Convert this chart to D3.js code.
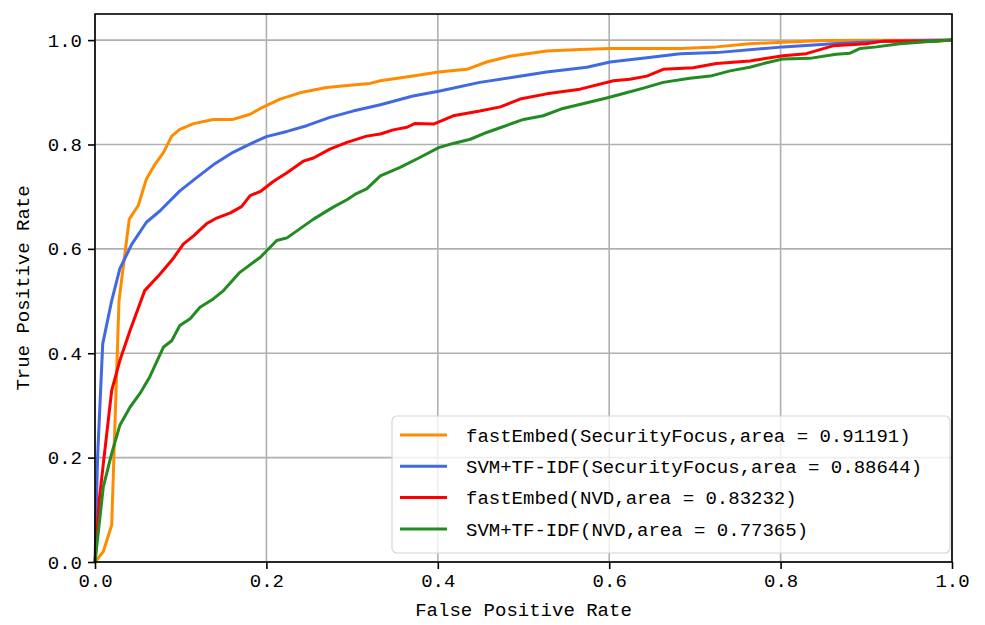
<!DOCTYPE html>
<html lang="en">
<head>
  <meta charset="UTF-8">
  <title>ROC curves</title>
  <script src="https://d3js.org/d3.v7.min.js"></script>
  <style>
    body { margin: 0; background: #fff; }
    text { font-family: "Liberation Mono", "DejaVu Sans Mono", monospace; fill: #000; }
  </style>
</head>
<body>
<script>
// ROC points: [false positive rate, true positive rate]
const rocFastEmbedSF = [
  [0, 0], [0.0097, 0.02], [0.0195, 0.071], [0.024, 0.3], [0.028, 0.5], [0.031, 0.54], [0.040, 0.657],
  [0.0505, 0.683], [0.060, 0.734], [0.070, 0.762], [0.080, 0.785], [0.0895, 0.816], [0.099, 0.829],
  [0.115, 0.840], [0.138, 0.848], [0.161, 0.848], [0.181, 0.858], [0.193, 0.869], [0.216, 0.887],
  [0.239, 0.899], [0.270, 0.909], [0.301, 0.914], [0.321, 0.917], [0.333, 0.922], [0.371, 0.931],
  [0.401, 0.939], [0.434, 0.944], [0.457, 0.958], [0.484, 0.969], [0.527, 0.979], [0.566, 0.982],
  [0.601, 0.984], [0.683, 0.984], [0.725, 0.987], [0.764, 0.993], [0.803, 0.996], [0.85, 0.999], [1, 1]
];
const rocSvmSF = [
  [0, 0], [0.003, 0.2], [0.009, 0.418], [0.0195, 0.501], [0.029, 0.562], [0.043, 0.609], [0.060, 0.651],
  [0.076, 0.673], [0.099, 0.711], [0.119, 0.737], [0.138, 0.761], [0.161, 0.785], [0.185, 0.804],
  [0.200, 0.815], [0.224, 0.825], [0.247, 0.836], [0.274, 0.852], [0.301, 0.864], [0.333, 0.876],
  [0.371, 0.893], [0.401, 0.902], [0.449, 0.919], [0.488, 0.929], [0.527, 0.939], [0.574, 0.948],
  [0.601, 0.958], [0.644, 0.966], [0.683, 0.974], [0.725, 0.976], [0.803, 0.987], [0.861, 0.993],
  [0.920, 0.998], [1, 1]
];
const rocFastEmbedNVD = [
  [0, 0], [0.005, 0.12], [0.0195, 0.329], [0.029, 0.386], [0.041, 0.444], [0.058, 0.520], [0.076, 0.552],
  [0.091, 0.581], [0.103, 0.609], [0.115, 0.625], [0.130, 0.648], [0.142, 0.659], [0.158, 0.669],
  [0.171, 0.681], [0.181, 0.702], [0.193, 0.710], [0.208, 0.729], [0.224, 0.746], [0.243, 0.768],
  [0.255, 0.774], [0.274, 0.791], [0.294, 0.804], [0.317, 0.816], [0.333, 0.820], [0.348, 0.828],
  [0.364, 0.833], [0.373, 0.840], [0.395, 0.839], [0.418, 0.855], [0.449, 0.864], [0.473, 0.872],
  [0.496, 0.887], [0.527, 0.897], [0.566, 0.906], [0.605, 0.922], [0.624, 0.925], [0.644, 0.931],
  [0.663, 0.944], [0.698, 0.947], [0.725, 0.955], [0.764, 0.960], [0.803, 0.970], [0.830, 0.974],
  [0.861, 0.989], [0.900, 0.993], [0.920, 0.998], [0.98, 0.998], [1, 1]
];
const rocSvmNVD = [
  [0, 0], [0.0097, 0.144], [0.0195, 0.208], [0.029, 0.262], [0.041, 0.297], [0.0525, 0.323],
  [0.064, 0.355], [0.080, 0.412], [0.0895, 0.424], [0.099, 0.453], [0.111, 0.466], [0.1225, 0.488],
  [0.138, 0.504], [0.150, 0.520], [0.169, 0.555], [0.193, 0.584], [0.212, 0.616], [0.224, 0.621],
  [0.255, 0.657], [0.278, 0.680], [0.294, 0.694], [0.305, 0.706], [0.317, 0.715], [0.333, 0.740],
  [0.356, 0.756], [0.379, 0.775], [0.401, 0.794], [0.418, 0.802], [0.438, 0.810], [0.457, 0.823],
  [0.476, 0.834], [0.500, 0.848], [0.523, 0.855], [0.546, 0.869], [0.574, 0.880], [0.597, 0.889],
  [0.620, 0.899], [0.640, 0.908], [0.663, 0.919], [0.694, 0.927], [0.718, 0.931], [0.741, 0.941],
  [0.764, 0.948], [0.780, 0.955], [0.803, 0.964], [0.834, 0.965], [0.865, 0.973], [0.881, 0.975],
  [0.893, 0.984], [0.912, 0.987], [0.939, 0.993], [0.970, 0.997], [1, 1]
];

const seriesNames = [
  "fastEmbed(SecurityFocus,area = 0.91191)",
  "SVM+TF-IDF(SecurityFocus,area = 0.88644)",
  "fastEmbed(NVD,area = 0.83232)",
  "SVM+TF-IDF(NVD,area = 0.77365)"
];
const seriesColors = ["darkorange", "royalblue", "red", "forestgreen"];
const seriesData = [rocFastEmbedSF, rocSvmSF, rocFastEmbedNVD, rocSvmNVD];
const tickValues = [0, 0.2, 0.4, 0.6, 0.8, 1.0];

const width = 985, height = 625;
const margin = { top: 14, right: 33, bottom: 63, left: 95 };

const svg = d3.select("body").append("svg")
    .attr("width", width)
    .attr("height", height);

const x = d3.scaleLinear().domain([0, 1]).range([margin.left, width - margin.right]);
const y = d3.scaleLinear().domain([0, 1.05]).range([height - margin.bottom, margin.top]);

// grid
svg.append("g")
  .selectAll("line")
  .data(tickValues)
  .join("line")
    .attr("x1", d => x(d)).attr("x2", d => x(d))
    .attr("y1", y(0)).attr("y2", y(1.05))
    .attr("stroke", "#b0b0b0").attr("stroke-width", 1.6);
svg.append("g")
  .selectAll("line")
  .data(tickValues)
  .join("line")
    .attr("x1", x(0)).attr("x2", x(1))
    .attr("y1", d => y(d)).attr("y2", d => y(d))
    .attr("stroke", "#b0b0b0").attr("stroke-width", 1.6);

// curves
const line = d3.line().x(d => x(d[0])).y(d => y(d[1]));
svg.append("g")
    .attr("fill", "none")
    .attr("stroke-width", 3)
    .attr("stroke-linejoin", "round")
  .selectAll("path")
  .data(seriesData)
  .join("path")
    .attr("stroke", (d, i) => seriesColors[i])
    .attr("d", line);

// axes
const fmt = d3.format(".1f");
const xAxis = svg.append("g")
    .attr("transform", `translate(0,${y(0)})`)
    .call(d3.axisBottom(x).tickValues(tickValues).tickFormat(fmt).tickSize(7).tickPadding(5));
const yAxis = svg.append("g")
    .attr("transform", `translate(${x(0)},0)`)
    .call(d3.axisLeft(y).tickValues(tickValues).tickFormat(fmt).tickSize(7).tickPadding(6));
[xAxis, yAxis].forEach(a => {
  a.select(".domain").remove();
  a.selectAll(".tick line").attr("stroke", "#000").attr("stroke-width", 1.6);
  a.selectAll(".tick text").attr("font-size", 19).attr("font-family", null);
});

// frame
svg.append("rect")
    .attr("x", x(0)).attr("y", y(1.05))
    .attr("width", x(1) - x(0)).attr("height", y(0) - y(1.05))
    .attr("fill", "none").attr("stroke", "#000").attr("stroke-width", 1.6);

// axis labels
svg.append("text")
    .attr("x", (x(0) + x(1)) / 2).attr("y", 609)
    .attr("dy", "0.35em")
    .attr("text-anchor", "middle").attr("font-size", 19)
    .text("False Positive Rate");
svg.append("text")
    .attr("transform", `translate(22,${(y(0) + y(1.05)) / 2}) rotate(-90)`)
    .attr("dy", "0.35em")
    .attr("text-anchor", "middle").attr("font-size", 19)
    .text("True Positive Rate");

// legend
const legend = svg.append("g").attr("transform", "translate(392,416)");
legend.append("rect")
    .attr("width", 558).attr("height", 137).attr("rx", 5)
    .attr("fill", "#fff").attr("fill-opacity", 0.8)
    .attr("stroke", "#d6d6d6").attr("stroke-width", 1.2);
const rows = legend.selectAll("g.row")
  .data(seriesNames)
  .join("g")
    .attr("class", "row")
    .attr("transform", (d, i) => `translate(0,${19 + i * 31.3})`);
rows.append("line")
    .attr("x1", 8).attr("x2", 55)
    .attr("stroke", (d, i) => seriesColors[i]).attr("stroke-width", 3);
rows.append("text")
    .attr("x", 74).attr("dy", "0.35em")
    .attr("font-size", 19)
    .text(d => d);
</script>
</body>
</html>
